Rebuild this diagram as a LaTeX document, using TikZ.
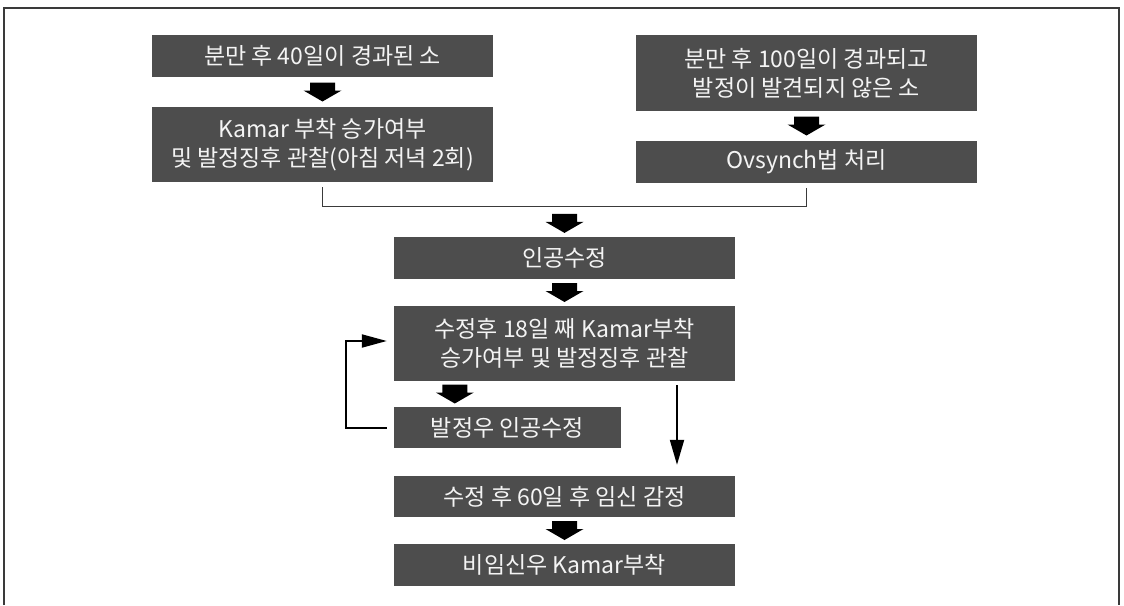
\documentclass[tikz,border=0pt]{standalone}
\usepackage{fontspec}
\setmainfont{Noto Sans CJK KR}
\usetikzlibrary{arrows.meta,calc}
\definecolor{boxgray}{HTML}{4D4D4D}
\definecolor{txtwhite}{HTML}{F4F4F4}
\definecolor{framegray}{HTML}{3A3A3A}
\begin{document}
\begin{tikzpicture}[x=1pt,y=-1pt,
  box/.style={fill=boxgray,text=txtwhite,inner sep=0pt,align=center,
    font=\fontsize{23}{29}\selectfont},
  wide/.style={minimum width=341pt},
  blk/.pic={\fill[black] (-12.5,-9.5) -- (12.5,-9.5) -- (12.5,-1.5) -- (19,-1.5)
     -- (0,9.5) -- (-19,-1.5) -- (-12.5,-1.5) -- cycle;},
  brk/.style={draw=framegray,line width=1.1pt},
  loopline/.style={draw=black,line width=2pt},
  thinarrow/.style={draw=black,line width=2pt},
  ]
\useasboundingbox (0,0) rectangle (1124,605);
% frame
\draw[framegray,line width=1.3pt] (4,605) -- (4,8) -- (1119,8) -- (1119,605);

% nodes
\node[box,wide,minimum height=42pt] (A) at (322.5,56) {분만 후 40일이 경과된 소};
\node[box,wide,minimum height=75pt] (B) at (322.5,144.5) {Kamar 부착 승가여부\\및 발정징후 관찰(아침 저녁 2회)};
\node[box,wide,minimum height=76pt] (C) at (806.5,73) {분만 후 100일이 경과되고\\발정이 발견되지 않은 소};
\node[box,wide,minimum height=42pt] (D) at (806.5,162) {Ovsynch법 처리};
\node[box,wide,minimum height=42pt] (E) at (564.5,258) {인공수정};
\node[box,wide,minimum height=75pt] (F) at (564.5,343.5) {수정후 18일 째 Kamar부착\\승가여부 및 발정징후 관찰};
\node[box,minimum width=227pt,minimum height=41pt] (G) at (507.5,427.5) {발정우 인공수정};
\node[box,wide,minimum height=41pt] (H) at (564.5,496.5) {수정 후 60일 후 임신 감정};
\node[box,wide,minimum height=42pt] (I) at (564.5,565) {비임신우 Kamar부착};

% block arrows
\pic at ($(A.south)!0.5!(B.north)$) {blk};
\pic at ($(C.south)!0.5!(D.north)$) {blk};
\pic at ($(E.south)!0.5!(F.north)$) {blk};
\pic at ($(F.south west)!0.5!(G.north west)+(61,0)$) {blk};
\pic at ($(H.south)!0.5!(I.north)$) {blk};

% bracket joining the two branches
\draw[brk] ([yshift=-5pt]B.south) -- ++(0,19) -| ([yshift=-5pt]D.south);
\coordinate (bm) at (564.5,206);
\pic at ($(bm)!0.5!(E.north)+(0,2)$) {blk};

% loop back
\draw[loopline,-{Triangle[length=25pt,width=13pt]}]
  ([xshift=-7pt]G.west) -- ++(-41,0) |- ([xshift=-7pt,yshift=2.5pt]F.west);

% thin arrow to pregnancy test
\draw[thinarrow,-{Triangle[length=25pt,width=14pt]}]
  ([xshift=112.5pt,yshift=-4pt]F.south) -- ([xshift=112.5pt,yshift=11pt]H.north);
\end{tikzpicture}
\end{document}
